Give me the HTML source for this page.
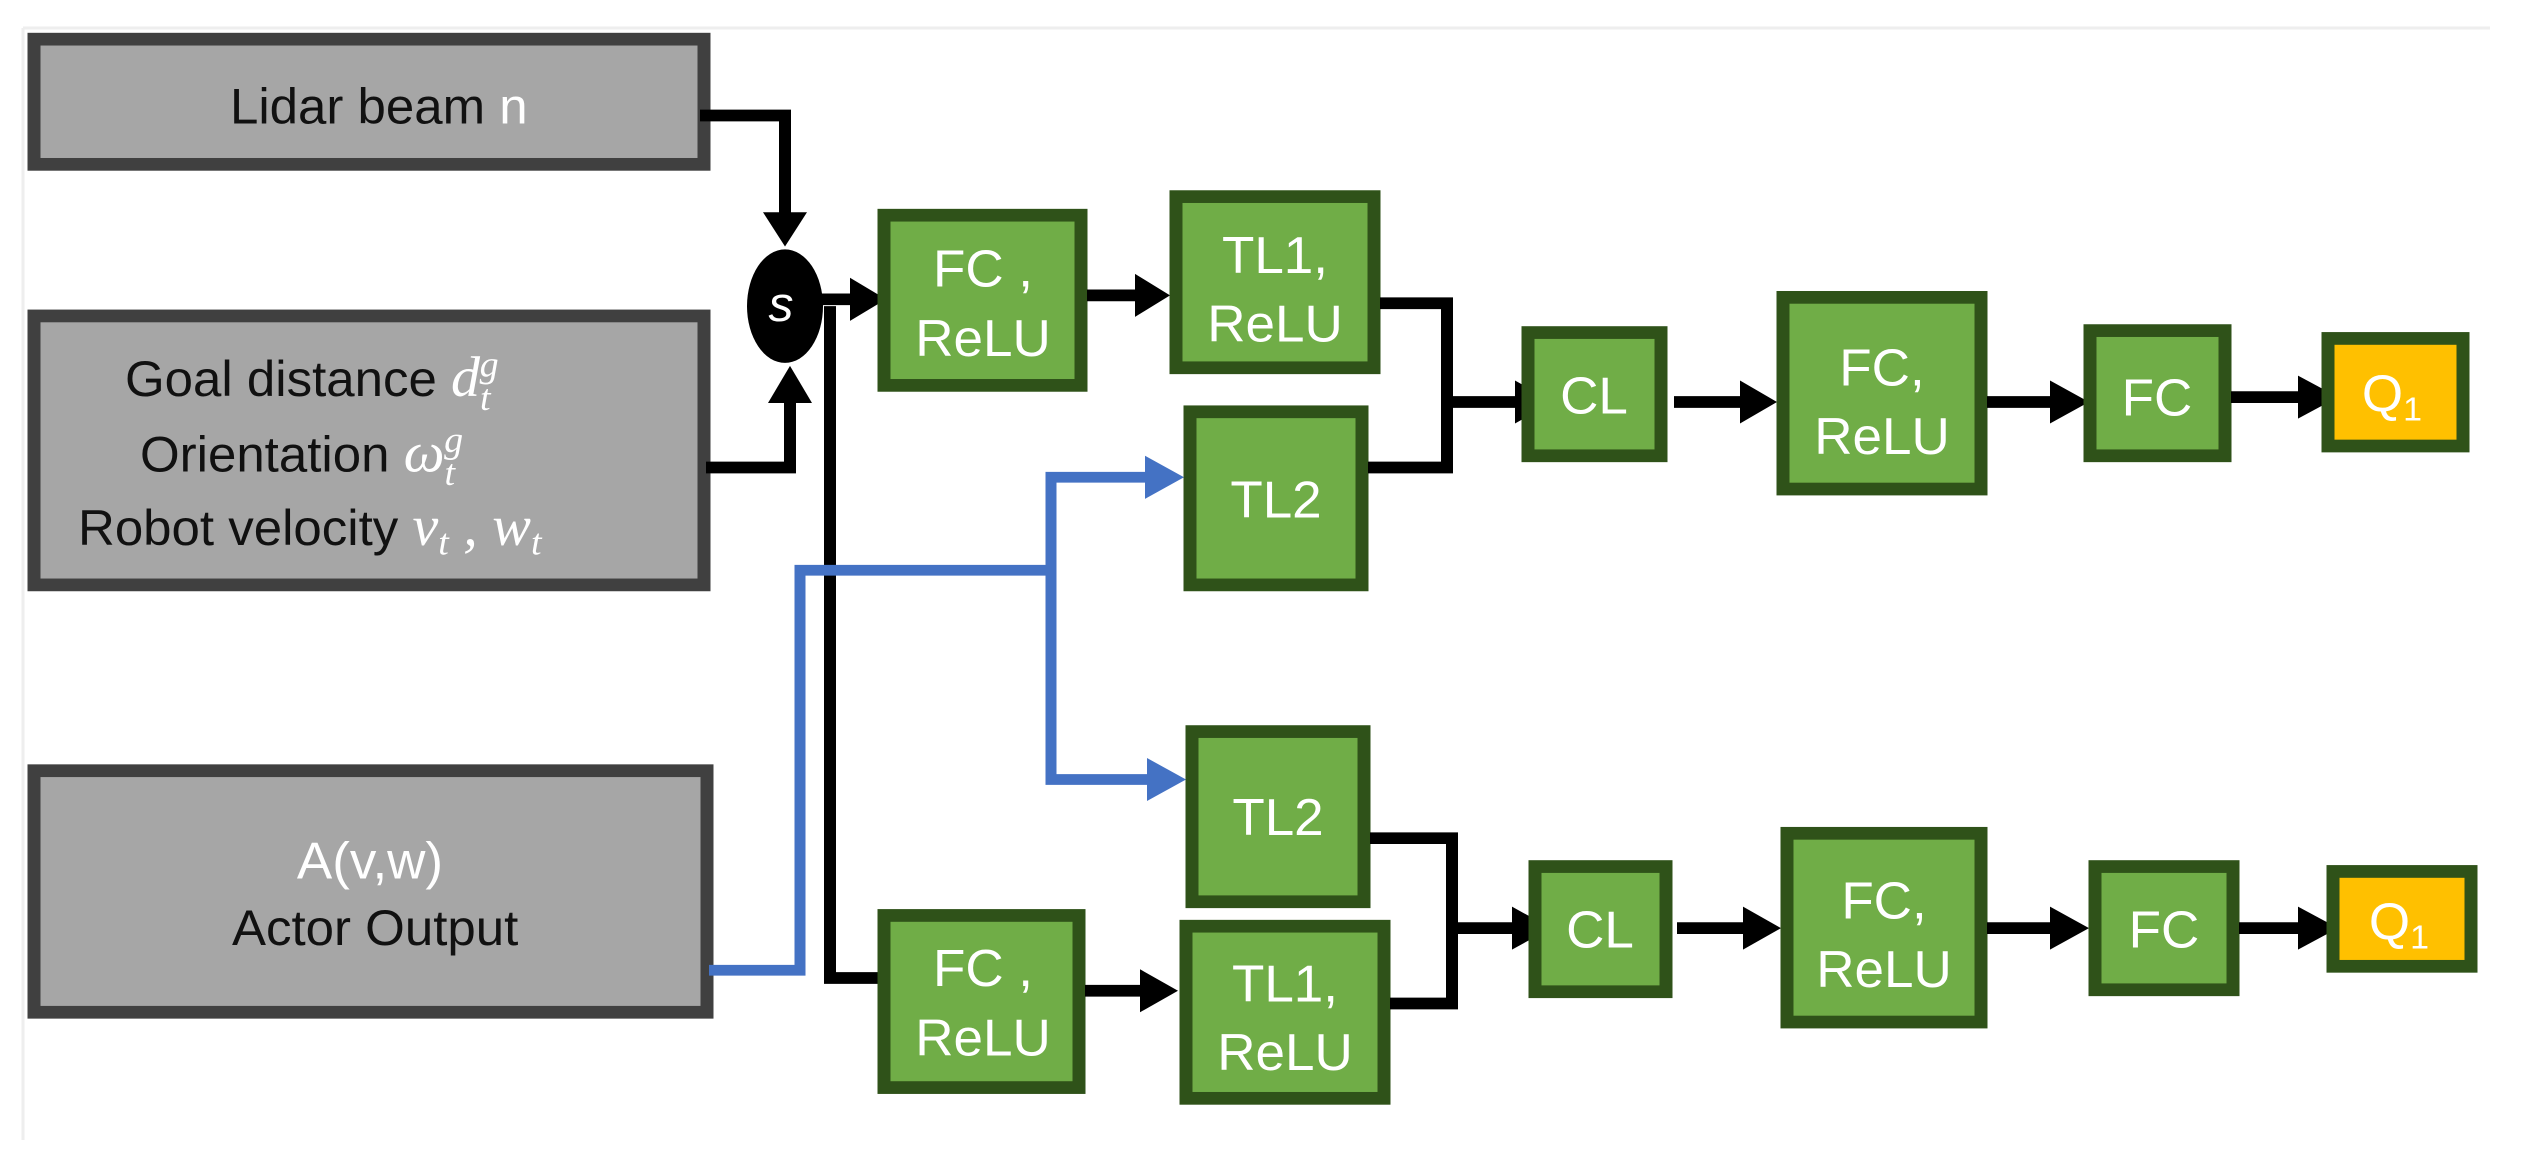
<!DOCTYPE html>
<html><head><meta charset="utf-8"><style>
html,body{margin:0;padding:0;background:#fff;}
svg{display:block;}
text{font-family:"Liberation Sans",sans-serif;}
.g{fill:#70ad47;stroke:#2f5219;stroke-width:13;}
.gr{fill:#a6a6a6;stroke:#404040;stroke-width:13;}
.w{fill:#fff;font-size:53px;text-anchor:middle;}
.b{fill:#111;font-size:51px;}
.m{font-family:"Liberation Serif",serif;font-style:italic;fill:#fff;}
.k{stroke:#000;stroke-width:12;fill:none;}
.bl{stroke:#4472c4;stroke-width:11;fill:none;}
</style></head><body>
<svg width="2526" height="1151" viewBox="0 0 2526 1151" xmlns="http://www.w3.org/2000/svg">
<line x1="23" y1="28" x2="2490" y2="28" stroke="#eee" stroke-width="3"/>
<line x1="23" y1="28" x2="23" y2="1140" stroke="#eee" stroke-width="3"/>
<g transform="translate(0,2) scale(1,0.978)">
<!-- gray boxes -->
<rect class="gr" x="34" y="38" width="670" height="128"/>
<text class="b" x="230" y="124">Lidar beam <tspan fill="#fff">n</tspan></text>
<rect class="gr" x="34" y="321" width="670" height="275"/>
<text class="b" x="125" y="403">Goal distance <tspan class="m" font-size="58">d</tspan><tspan class="m" font-size="38" dy="14">t</tspan><tspan class="m" font-size="38" dx="-11" dy="-34">g</tspan></text>
<text class="b" x="140" y="480">Orientation  <tspan class="m" font-size="58">ω</tspan><tspan class="m" font-size="38" dy="14">t</tspan><tspan class="m" font-size="38" dx="-11" dy="-34">g</tspan></text>
<text class="b" x="78" y="555">Robot velocity <tspan class="m" font-size="58">v</tspan><tspan class="m" font-size="38" dy="10">t</tspan><tspan class="m" font-size="58" dy="-10"> , w</tspan><tspan class="m" font-size="38" dy="10">t</tspan></text>
<rect class="gr" x="34" y="786" width="673" height="247"/>
<text class="w" x="370" y="896">A(v,w)</text>
<text class="b" x="232" y="964">Actor Output</text>

<!-- oval -->
<ellipse cx="785" cy="311" rx="38" ry="58" fill="#000"/>
<text x="781" y="326" font-family="Liberation Serif,serif" font-style="italic" font-size="50" fill="#fff" text-anchor="middle">s</text>

<!-- black connectors left -->
<polyline class="k" points="700,116 785,116 785,220"/>
<polygon points="763,215 807,215 785,250"/>
<polyline class="k" points="706,476 790,476 790,405"/>
<polygon points="768,410 812,410 790,372"/>
<polyline class="k" points="830,311 830,998 885,998"/>
<polygon points="880,976 880,1020 918,998"/>
<line class="k" x1="822" y1="304" x2="855" y2="304"/>
<polygon points="850,282 850,326 886,304"/>

<!-- blue connectors -->
<polyline class="bl" points="709,990 800,990 800,581 1051,581"/>
<polyline class="bl" points="1150,486 1051,486 1051,795 1150,795"/>
<polygon fill="#4472c4" points="1145,464 1145,508 1184,486"/>
<polygon fill="#4472c4" points="1147,773 1147,817 1186,795"/>

<!-- green boxes left column -->
<rect class="g" x="884" y="218" width="197" height="174"/>
<text class="w" x="983" y="291">FC ,</text><text class="w" x="983" y="362">ReLU</text>
<rect class="g" x="884" y="934" width="195" height="176"/>
<text class="w" x="983" y="1006">FC ,</text><text class="w" x="983" y="1077">ReLU</text>

<line class="k" x1="1087" y1="300" x2="1140" y2="300"/>
<polygon points="1135,278 1135,322 1170,300"/>
<line class="k" x1="1085" y1="1011" x2="1145" y2="1011"/>
<polygon points="1140,989 1140,1033 1178,1011"/>

<rect class="g" x="1176" y="199" width="198" height="175"/>
<text class="w" x="1275" y="277">TL1,</text><text class="w" x="1275" y="347">ReLU</text>
<rect class="g" x="1190" y="419" width="172" height="177"/>
<text class="w" x="1276" y="527">TL2</text>
<rect class="g" x="1192" y="746" width="172" height="174"/>
<text class="w" x="1278" y="852">TL2</text>
<rect class="g" x="1186" y="945" width="198" height="176"/>
<text class="w" x="1285" y="1022">TL1,</text><text class="w" x="1285" y="1092">ReLU</text>

<!-- brackets -->
<polyline class="k" points="1380,308 1447,308 1447,476 1368,476"/>
<line class="k" x1="1447" y1="409" x2="1520" y2="409"/>
<polygon points="1515,387 1515,431 1553,409"/>
<polyline class="k" points="1370,855 1452,855 1452,1024 1390,1024"/>
<line class="k" x1="1452" y1="947" x2="1515" y2="947"/>
<polygon points="1512,925 1512,969 1551,947"/>

<!-- top row -->
<rect class="g" x="1528" y="338" width="133" height="126"/>
<text class="w" x="1594" y="421">CL</text>
<line class="k" x1="1674" y1="409" x2="1745" y2="409"/>
<polygon points="1740,387 1740,431 1777,409"/>
<rect class="g" x="1783" y="302" width="198" height="196"/>
<text class="w" x="1882" y="392">FC,</text><text class="w" x="1882" y="462">ReLU</text>
<line class="k" x1="1987" y1="409" x2="2055" y2="409"/>
<polygon points="2050,387 2050,431 2089,409"/>
<rect class="g" x="2090" y="336" width="135" height="128"/>
<text class="w" x="2157" y="423">FC</text>
<line class="k" x1="2231" y1="404" x2="2300" y2="404"/>
<polygon points="2298,382 2298,426 2338,404"/>
<rect fill="#ffc000" stroke="#2f5219" stroke-width="13" x="2328" y="344" width="135" height="110"/>
<text class="w" x="2392" y="418">Q<tspan font-size="34" dy="10">1</tspan></text>

<!-- bottom row -->
<rect class="g" x="1535" y="884" width="131" height="128"/>
<text class="w" x="1600" y="967">CL</text>
<line class="k" x1="1677" y1="947" x2="1748" y2="947"/>
<polygon points="1743,925 1743,969 1781,947"/>
<rect class="g" x="1787" y="850" width="194" height="193"/>
<text class="w" x="1884" y="937">FC,</text><text class="w" x="1884" y="1007">ReLU</text>
<line class="k" x1="1987" y1="947" x2="2055" y2="947"/>
<polygon points="2050,925 2050,969 2089,947"/>
<rect class="g" x="2095" y="884" width="138" height="126"/>
<text class="w" x="2164" y="967">FC</text>
<line class="k" x1="2239" y1="947" x2="2300" y2="947"/>
<polygon points="2298,925 2298,969 2338,947"/>
<rect fill="#ffc000" stroke="#2f5219" stroke-width="13" x="2333" y="889" width="138" height="97"/>
<text class="w" x="2399" y="958">Q<tspan font-size="34" dy="10">1</tspan></text>
</g>
</svg>
</body></html>
